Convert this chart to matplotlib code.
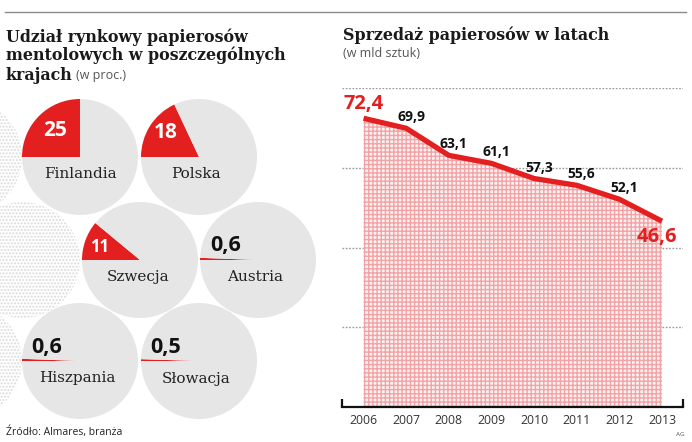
import matplotlib
matplotlib.use("Agg")
import matplotlib.pyplot as plt
import numpy as np

# ---------------- data ----------------
countries = ["Finlandia", "Polska", "Szwecja", "Austria", "Hiszpania", "Słowacja"]
shares = [25, 18, 11, 0.6, 0.6, 0.5]
share_labels = ["25", "18", "11", "0,6", "0,6", "0,5"]

years = ["2006", "2007", "2008", "2009", "2010", "2011", "2012", "2013"]
sales = [72.4, 69.9, 63.1, 61.1, 57.3, 55.6, 52.1, 46.6]
sales_labels = ["72,4", "69,9", "63,1", "61,1", "57,3", "55,6", "52,1", "46,6"]
y_grid = [20, 40, 60, 80]

RED = "#e3201f"
CIRCLE = "#e6e6e6"
W, H = 692, 442

fig = plt.figure(figsize=(W / 100, H / 100), dpi=100)
fig.patch.set_facecolor("white")

# overlay axes in pixel coordinates (y up)
ax0 = fig.add_axes([0, 0, 1, 1])
ax0.set_xlim(0, W)
ax0.set_ylim(0, H)
ax0.set_axis_off()


def Y(y):
    return H - y


SERIF = "DejaVu Serif"
SANS = "Open Sans"
TSIZE = 11.4

# top rule
ax0.plot([5, 686], [Y(12), Y(12)], color="#8a8a8a", lw=1.0)

# ---- left titles ----
ax0.text(6, Y(41.5), "Udział rynkowy papierosów", family=SERIF, weight="bold",
         fontsize=TSIZE, color="#1a1a1a", va="baseline", ha="left")
ax0.text(6, Y(60.5), "mentolowych w poszczególnych", family=SERIF, weight="bold",
         fontsize=TSIZE, color="#1a1a1a", va="baseline", ha="left")
ax0.text(6, Y(79.5), "krajach", family=SERIF, weight="bold",
         fontsize=TSIZE, color="#1a1a1a", va="baseline", ha="left")
ax0.text(76, Y(79.5), "(w proc.)", family=SANS, fontsize=9,
         color="#555555", va="baseline", ha="left")

# dotted decorative circles at the left edge
for cx, cy in [(-36, 157), (22, 260), (-36, 361)]:
    c = plt.Circle((cx, Y(cy)), 58, facecolor="white", edgecolor="#dadada",
                   hatch=".....", linewidth=0, zorder=1)
    ax0.add_patch(c)

# pie circles
centers = [(80, 157), (199, 157), (140, 260), (258, 260), (80, 361), (199, 361)]
R = 58
for (cx, cy), val in zip(centers, shares):
    ax0.pie([val, 100 - val], center=(cx, Y(cy)), radius=R, startangle=180,
            counterclock=False, colors=[RED, CIRCLE],
            wedgeprops=dict(linewidth=0, zorder=2))

ax0.set_xlim(0, W)
ax0.set_ylim(0, H)
ax0.set_aspect("auto")
ax0.set_axis_off()

# numbers on the pies
num_pos = [(55, 131), (166, 133), (99.5, 247), (226, 246), (47, 347), (166, 347)]
num_size = [15, 15, 12, 15.5, 15.5, 15.5]
for i, ((x, y), lab) in enumerate(zip(num_pos, share_labels)):
    col = "white" if shares[i] > 5 else "#111111"
    ax0.text(x, Y(y), lab, family=SANS, weight="bold", fontsize=num_size[i],
             color=col, ha="center", va="center", zorder=5)

name_pos = [(80, 174), (196, 174), (138, 277), (255, 277), (77, 378), (196, 379)]
for (x, y), name in zip(name_pos, countries):
    ax0.text(x, Y(y), name, family=SERIF, fontsize=11, color="#222222",
             ha="center", va="center", zorder=5)

# footer
ax0.text(6, Y(432), "Źródło: Almares, branża", family=SANS, fontsize=7.5,
         color="#222222", ha="left", va="center")
ax0.text(680, Y(434), "AG", family=SANS, fontsize=4.5, color="#555555",
         ha="center", va="center")

# ---- right titles ----
ax0.text(343, Y(40), "Sprzedaż papierosów w latach", family=SERIF, weight="bold",
         fontsize=TSIZE, color="#1a1a1a", va="baseline", ha="left")
ax0.text(343, Y(57), "(w mld sztuk)", family=SANS, fontsize=9,
         color="#555555", va="baseline", ha="left")

# ---- line chart ----
x_left, x_right = 342.3, 683.3
y_zero, y_top = 407, 88
ax = fig.add_axes([x_left / W, (H - y_zero) / H, (x_right - x_left) / W,
                   (y_zero - y_top) / H])
ax.set_facecolor("none")
xs = np.arange(len(years))
ax.set_xlim(-0.5, len(years) - 0.5)
ax.set_ylim(0, 80)

for g in y_grid:
    ax.axhline(g, color="#9a9a9a", lw=1.0, ls=(0, (1.2, 1.2)), zorder=1)

ax.fill_between(xs, 0, sales, facecolor="#fdf1f1", edgecolor="#f2a3a6",
                hatch="++++", linewidth=0, zorder=2)
ax.plot(xs, sales, color=RED, lw=3.8, solid_capstyle="butt", zorder=4)

for spine in ["top", "left", "right"]:
    ax.spines[spine].set_visible(False)
ax.spines["bottom"].set_linewidth(1.6)
ax.spines["bottom"].set_color("#111111")
ax.set_yticks([])
ax.set_xticks(xs)
ax.set_xticklabels(years, family=SANS, fontsize=8.8, color="#333333")
ax.tick_params(axis="x", which="major", length=0, pad=5)
ax.set_xticks(np.arange(-0.5, len(years), 1.0), minor=True)
ax.tick_params(axis="x", which="minor", direction="in", length=6, width=1.6,
               color="#111111")

# value labels
for i, (v, lab) in enumerate(zip(sales, sales_labels)):
    if i == 0:
        ax.annotate(lab, (xs[i], v), xytext=(0, 4), textcoords="offset pixels",
                    ha="center", va="bottom", family=SANS, weight="bold",
                    fontsize=14.5, color=RED, annotation_clip=False)
    elif i == len(sales) - 1:
        ax.annotate(lab, (xs[i], v), xytext=(-5, -6), textcoords="offset pixels",
                    ha="center", va="top", family=SANS, weight="bold",
                    fontsize=14.5, color=RED, annotation_clip=False)
    else:
        ax.annotate(lab, (xs[i], v), xytext=(5, 11), textcoords="offset pixels",
                    ha="center", va="center", family=SANS, weight="bold",
                    fontsize=10, color="#111111", annotation_clip=False)

fig.savefig("out.png", dpi=100, facecolor="white")
